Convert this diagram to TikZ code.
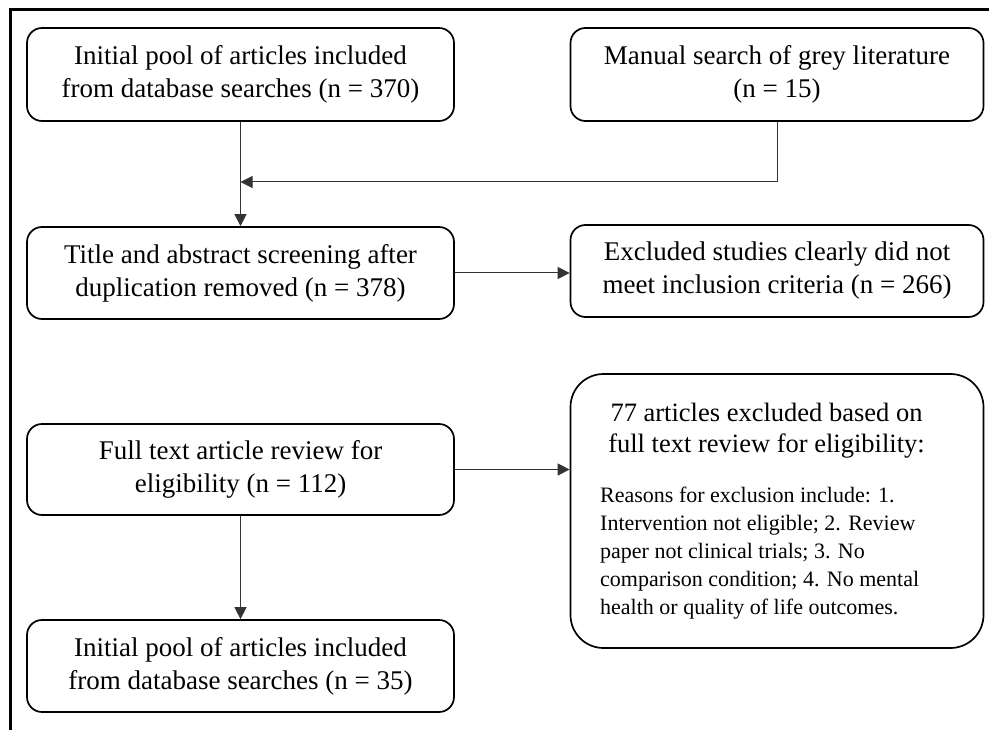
\documentclass[tikz,border=0pt]{standalone}
\usepackage{fontspec}
\setmainfont{Liberation Serif}
\usetikzlibrary{arrows.meta}
\begin{document}
\begin{tikzpicture}[x=1pt,y=-1pt,
  box/.style={draw, line width=1.7pt, rounded corners=15pt, minimum width=427pt, minimum height=93pt, align=center, inner sep=0pt, font=\fontsize{27}{33}\selectfont},
  rbox/.style={box, minimum width=413pt},
  conn/.style={line width=1pt, draw=black!80, -{Triangle[length=12pt,width=12pt]}},
  frameline/.style={line width=3pt}]
\useasboundingbox (0,0) rectangle (989,730);
\draw[frameline] (10,731) -- (10,10) -- (990,10);

\node[box] (init) at (240.5,74.5) {Initial pool of articles included\\from database searches (n = 370)};
\node[rbox] (grey) at (777,74.5) {Manual search of grey literature\\(n = 15)};
\node[box, minimum height=92pt] (screen) at (240.5,273) {Title and abstract screening after\\duplication removed (n = 378)};
\node[rbox, minimum height=92pt] (excl1) at (777,271) {Excluded studies clearly did not\\meet inclusion criteria (n = 266)};
\node[box, minimum height=91pt] (full) at (240.5,469.5) {Full text article review for\\eligibility (n = 112)};
\node[rbox, minimum height=274pt, rounded corners=33pt] (excl2) at (777,511) {};
\node[font=\fontsize{26.5}{31}\selectfont, align=center, inner sep=0pt] (excl2head) at (766.5,431) {77 articles excluded based on\\full text review for eligibility:};
\node[font=\fontsize{22}{28}\selectfont, align=left, inner sep=0pt, anchor=north west] (excl2body) at (600,487) {Reasons for exclusion include: 1.\\Intervention not eligible; 2. Review\\paper not clinical trials; 3. No\\comparison condition; 4. No mental\\health or quality of life outcomes.};
\node[box, minimum height=92pt] (final) at (240.5,666) {Initial pool of articles included\\from database searches (n = 35)};

\coordinate (join) at (240.5,182);
\draw[conn] (init.south) -- (screen.north);
\draw[conn] (grey.south) |- (join);
\draw[conn] (screen.east) -- (screen.east -| excl1.west);
\draw[conn] (full.east) -- (full.east -| excl2.west);
\draw[conn] (full.south) -- (final.north);
\end{tikzpicture}
\end{document}
